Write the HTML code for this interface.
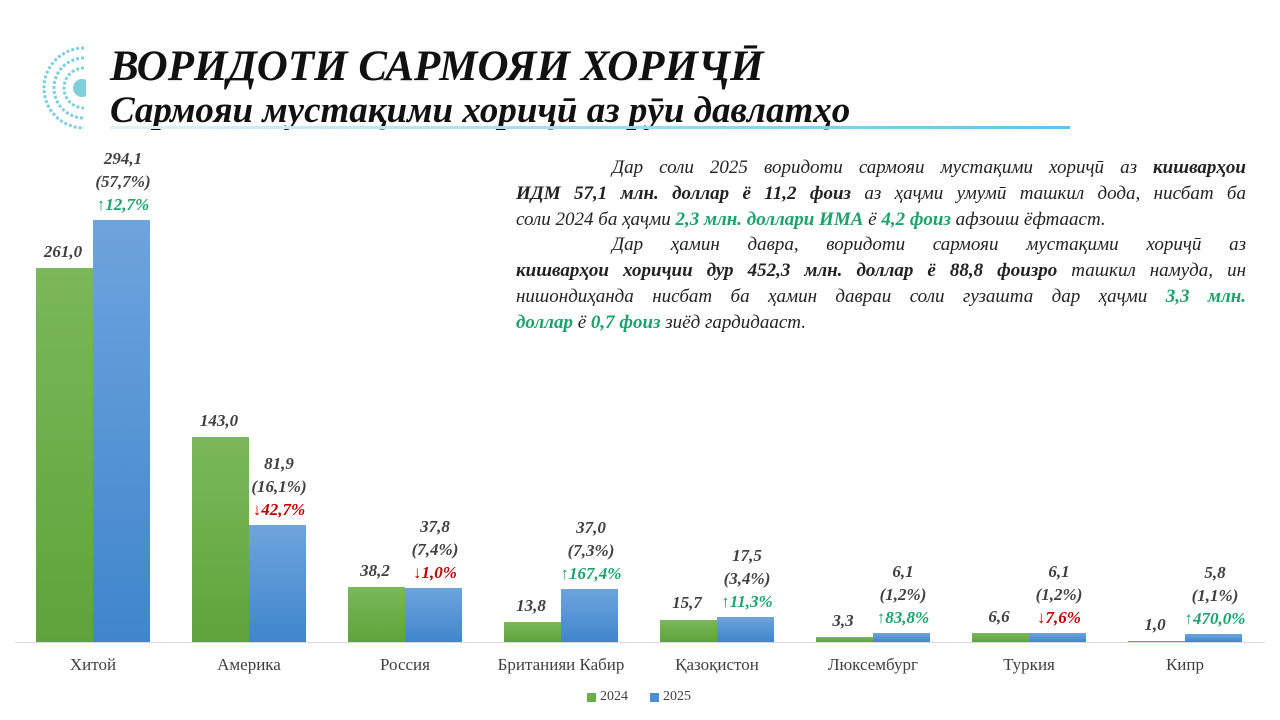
<!DOCTYPE html>
<html><head><meta charset="utf-8"><style>
body{margin:0;width:1280px;height:720px;background:#fff;position:relative;overflow:hidden;font-family:"Liberation Serif",serif}
.a{position:absolute}
.t1{left:110px;top:42px;font-size:43px;font-weight:bold;font-style:italic;color:#111;white-space:nowrap}
.t2{left:110px;top:89px;font-size:37px;font-weight:bold;font-style:italic;color:#111;white-space:nowrap}
.txt{left:516px;top:155px;width:730px;font-size:19px;font-style:italic;line-height:25.8px;color:#222}
.txt div{text-align:justify;text-align-last:justify;white-space:nowrap}
.txt .i{padding-left:96px}
.txt .l{text-align-last:left}
.g{color:#1aa36a;font-weight:bold}
.bar{position:absolute;bottom:78px;width:57px}
.gr{background:linear-gradient(#7ab85a,#5fa33a)}
.bl{background:linear-gradient(#6ea4dd,#3f86cc)}
.lbl{position:absolute;width:120px;text-align:center;font-size:17px;font-weight:bold;font-style:italic;color:#404040;line-height:23px}
.up{color:#1aa36a}.dn{color:#c00000}
.cat{position:absolute;top:655px;width:156px;text-align:center;font-size:17px;color:#404040}
</style></head><body>
<svg class="a" style="left:40px;top:46px" width="46" height="84" viewBox="0 0 46 84">
<g fill="none" stroke="#7fd0dc" stroke-width="3" stroke-dasharray="3 2">
<path d="M44 2 A40 40 0 0 0 44 82"/><path d="M44 12 A30 30 0 0 0 44 72"/><path d="M44 22 A20 20 0 0 0 44 62"/></g>
<circle cx="42" cy="42" r="9" fill="#7fd0dc"/>
</svg>
<div class="a t1">ВОРИДОТИ САРМОЯИ ХОРИҶӢ</div>
<div class="a t2">Сармояи мустақими хориҷӣ аз рӯи давлатҳо</div>
<div class="a" style="left:110px;top:126px;width:960px;height:3px;background:linear-gradient(90deg,#e0f3fa,#5cc6ea)"></div>
<div class="a txt">
<div class="i">Дар соли 2025 воридоти сармояи мустақими хориҷӣ аз <b>кишварҳои</b></div>
<div><b>ИДМ 57,1 млн. доллар ё 11,2 фоиз</b> аз ҳаҷми умумӣ ташкил дода, нисбат ба</div>
<div class="l">соли 2024 ба ҳаҷми <span class="g">2,3 млн. доллари ИМА</span> ё <span class="g">4,2 фоиз</span> афзоиш ёфтааст.</div>
<div class="i">Дар ҳамин давра, воридоти сармояи мустақими хориҷӣ аз</div>
<div><b>кишварҳои хориҷии дур 452,3 млн. доллар ё 88,8 фоизро</b> ташкил намуда, ин</div>
<div>нишондиҳанда нисбат ба ҳамин давраи соли гузашта дар ҳаҷми <span class="g">3,3 млн.</span></div>
<div class="l"><span class="g">доллар</span> ё <span class="g">0,7 фоиз</span> зиёд гардидааст.</div>
</div>
<div class="a" style="left:15px;top:642px;width:1250px;height:1px;background:#d9d9d9"></div>
<div id="c"></div>
<div class="a" style="left:587px;top:693px;width:9px;height:9px;background:#6aae47"></div>
<div class="a" style="left:600px;top:689px;font-size:14px;color:#404040">2024</div>
<div class="a" style="left:650px;top:693px;width:9px;height:9px;background:#4a8fd4"></div>
<div class="a" style="left:663px;top:689px;font-size:14px;color:#404040">2025</div>
<script>
var d=[["Хитой",261.0,294.1,"57,7%","↑12,7%",1],["Америка",143.0,81.9,"16,1%","↓42,7%",0],["Россия",38.2,37.8,"7,4%","↓1,0%",0],["Британияи Кабир",13.8,37.0,"7,3%","↑167,4%",1],["Қазоқистон",15.7,17.5,"3,4%","↑11,3%",1],["Люксембург",3.3,6.1,"1,2%","↑83,8%",1],["Туркия",6.6,6.1,"1,2%","↓7,6%",0],["Кипр",1.0,5.8,"1,1%","↑470,0%",1]];
var k=1.434,h="";
d.forEach(function(r,i){var c=93+156*i,h1=r[1]*k,h2=r[2]*k;
h+='<div class="bar gr" style="left:'+(c-57)+'px;height:'+h1+'px"></div>';
h+='<div class="bar bl" style="left:'+c+'px;height:'+h2+'px"></div>';
h+='<div class="lbl" style="left:'+(c-30-60)+'px;top:'+(642-h1-28)+'px">'+r[1].toFixed(1).replace(".",",")+'</div>';
h+='<div class="lbl" style="left:'+(c+28-60+2)+'px;top:'+(642-h2-73)+'px">'+r[2].toFixed(1).replace(".",",")+'<br>('+r[3]+')<br><span class="'+(r[5]?"up":"dn")+'">'+r[4]+'</span></div>';
h+='<div class="cat" style="left:'+(c-78)+'px">'+r[0]+'</div>';});
document.getElementById("c").innerHTML=h;
</script>
</body></html>
